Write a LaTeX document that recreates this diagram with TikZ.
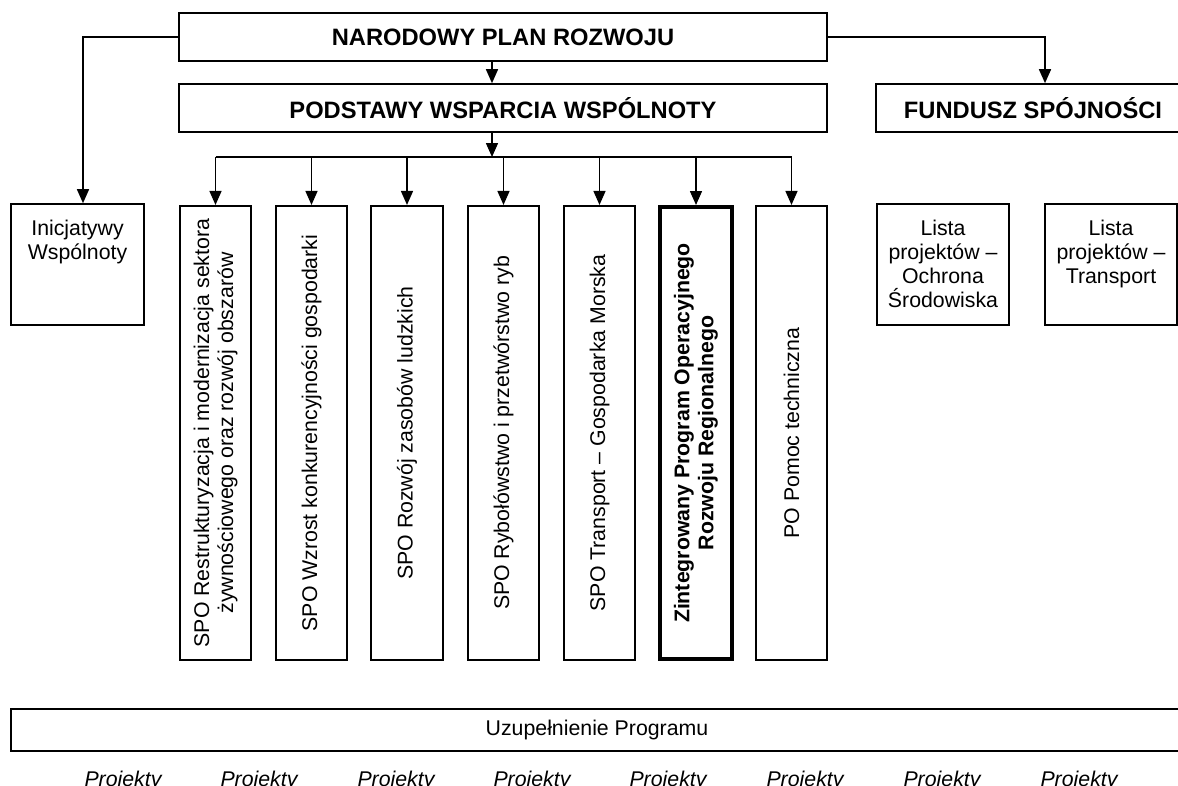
\documentclass[tikz,border=0pt]{standalone}
\usepackage{fontspec}
\setmainfont{Liberation Sans}
\usetikzlibrary{arrows.meta}
\begin{document}
\begin{tikzpicture}[x=1pt,y=-1pt,
  box/.style={draw, line width=1.6pt, inner sep=0pt},
  thickbox/.style={draw, line width=4pt, inner sep=0pt},
  arr/.style={line width=1.5pt, -{Triangle[length=14pt,width=12pt]}},
  bus/.style={line width=1.5pt},
  head/.style={font=\fontsize{23.7}{27}\selectfont\bfseries},
  txt/.style={font=\fontsize{21.3}{24}\selectfont, align=center, inner sep=0pt},
  btxt/.style={font=\fontsize{21.3}{24}\selectfont\bfseries, align=center, inner sep=0pt},
  proj/.style={font=\fontsize{21.3}{24}\selectfont\itshape, inner sep=0pt, anchor=base},
]
\useasboundingbox (0,0) rectangle (1178,785);
\clip (0,0) rectangle (1178,785);
\fill[white] (0,0) rectangle (1178,785);

% top boxes
\node[box, head, minimum width=648pt, minimum height=48pt] (npr) at (503,37) {NARODOWY PLAN ROZWOJU};
\node[box, head, minimum width=648pt, minimum height=48pt] (pww) at (503,108) {PODSTAWY WSPARCIA WSPÓLNOTY};
\node[box, head, minimum width=314pt, minimum height=48pt] (fs) at (1033,108) {FUNDUSZ SPÓJNOŚCI};

% side boxes
\node[box, minimum width=133pt, minimum height=121pt] (ini) at (77.5,264.5) {};
\node[txt, anchor=north] (init) at ([yshift=-16.5pt]ini.north) {Inicjatywy\\Wspólnoty};
\node[box, minimum width=132pt, minimum height=121pt] (lo) at (943,264.5) {};
\node[txt, anchor=north] (lot) at ([yshift=-16.5pt]lo.north) {Lista\\projektów –\\Ochrona\\Środowiska};
\node[box, minimum width=132pt, minimum height=121pt] (lt) at (1111,264.5) {};
\node[txt, anchor=north] (ltt) at ([yshift=-16.5pt]lt.north) {Lista\\projektów –\\Transport};

% vertical boxes
\node[box, minimum width=71.5pt, minimum height=454.5pt] (b1) at (215.5,433) {};
\node[box, minimum width=71.5pt, minimum height=454.5pt] (b2) at (311.5,433) {};
\node[box, minimum width=71.5pt, minimum height=454.5pt] (b3) at (407,433) {};
\node[box, minimum width=71.5pt, minimum height=454.5pt] (b4) at (503.5,433) {};
\node[box, minimum width=71.5pt, minimum height=454.5pt] (b5) at (599.5,433) {};
\node[thickbox, minimum width=72pt, minimum height=452pt] (b6) at (696,433) {};
\node[box, minimum width=71.5pt, minimum height=454.5pt] (b7) at (791.5,433) {};

\node[txt, rotate=90] (t1) at (b1) {SPO Restrukturyzacja i modernizacja sektora\\żywnościowego oraz rozwój obszarów};
\node[txt, rotate=90] (t2) at (b2) {SPO Wzrost konkurencyjności gospodarki};
\node[txt, rotate=90] (t3) at (b3) {SPO Rozwój zasobów ludzkich};
\node[txt, rotate=90] (t4) at (b4) {SPO Rybołówstwo i przetwórstwo ryb};
\node[txt, rotate=90] (t5) at (b5) {SPO Transport – Gospodarka Morska};
\node[btxt, rotate=90] (t6) at (b6) {Zintegrowany Program Operacyjnego\\Rozwoju Regionalnego};
\node[txt, rotate=90] (t7) at (b7) {PO Pomoc techniczna};

% bottom
\node[box, line width=2pt, txt, minimum width=1172pt, minimum height=42pt] (uzp) at (597,730) {Uzupełnienie Programu};
\foreach \i/\x in {1/123,2/259,3/396,4/532,5/668,6/805,7/942,8/1079}
  \node[proj] (p\i) at (\x,786) {Projekty};

% connectors
\coordinate (busc) at (492,157);
\draw[arr] (npr.south -| busc) -- (pww.north -| busc);
\draw[arr] (pww.south -| busc) -- (busc);
\draw[bus] (b1.north |- busc) -- (b7.north |- busc);
\foreach \b in {b1,b2,b3,b4,b5,b6,b7}
  \draw[arr] (\b.north |- busc) -- (\b.north);
\draw[arr] (npr.west) -| ([xshift=5.5pt]ini.north);
\draw[arr] (npr.east) -| ([xshift=12pt]fs.north);
\end{tikzpicture}
\end{document}
